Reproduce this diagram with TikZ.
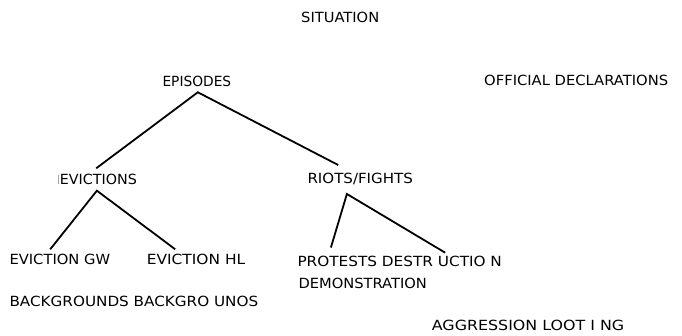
\documentclass[tikz,border=0pt]{standalone}
\usepackage{fontspec}
\usepackage{graphicx}
\setmainfont{DejaVu Sans}
% stretch a label horizontally to a given width (in pt), keeping its height
\newcommand\fitw[2]{\resizebox{#1pt}{\height}{#2}}
\begin{document}
\begin{tikzpicture}[x=1pt,y=-1pt,
  lbl/.style={anchor=base west, inner sep=0pt, font=\fontsize{14}{16}\selectfont},
  branch/.style={line width=1.8pt, line join=miter, draw=black}]
\useasboundingbox (0,0) rectangle (682,336);

% labels
\node[lbl] (sit) at (301,23)    {\fitw{78}{SITUATION}};
\node[lbl] (off) at (484,86)    {\fitw{184}{OFFICIAL DECLARATIONS}};
\node[lbl] (epi) at (162.3,86.7) {\fitw{68.7}{EPISODES}};
\node[lbl] (evi) at (57.3,184.3) {\fitw{79.4}{\textcolor{black!35}{\rule{0.7pt}{9.5pt}}\hspace{1.6pt}EVICTIONS}};
\node[lbl] (riots) at (307.3,184) {\fitw{105.4}{RIOTS/FIGHTS}};
\node[lbl] (egw) at (9.3,265)   {\fitw{100.7}{EVICTION GW}};
\node[lbl] (ehl) at (146.7,265) {\fitw{98.3}{EVICTION HL}};
\node[lbl] (bg)  at (9.3,306.7) {\fitw{248.7}{BACKGROUNDS BACKGRO UNOS}};
\node[lbl] (pro) at (297.3,266.7) {\fitw{204.4}{PROTESTS DESTR UCTIO N}};
\node[lbl] (dem) at (298.3,288.3) {\fitw{128.4}{DEMONSTRATION}};
\node[lbl] (agg) at (431.7,330.5) {\fitw{192.3}{AGGRESSION LOOT I NG}};

% tree branches
\draw[branch] ([shift={(-1,-16)}]evi.base) -- ([shift={(1,5.6)}]epi.base)
              -- ([shift={(-22,-19)}]riots.base);
\draw[branch] ([shift={(-9.65,-15.7)}]egw.base) -- ([shift={(-0.3,6.4)}]evi.base)
              -- ([shift={(-20.85,-15.7)}]ehl.base);
\draw[branch] ([shift={(-68.8,-19.2)}]pro.base) -- ([shift={(-13.3,10)}]riots.base)
              -- ([shift={(45.5,-14)}]pro.base);
\end{tikzpicture}
\end{document}
